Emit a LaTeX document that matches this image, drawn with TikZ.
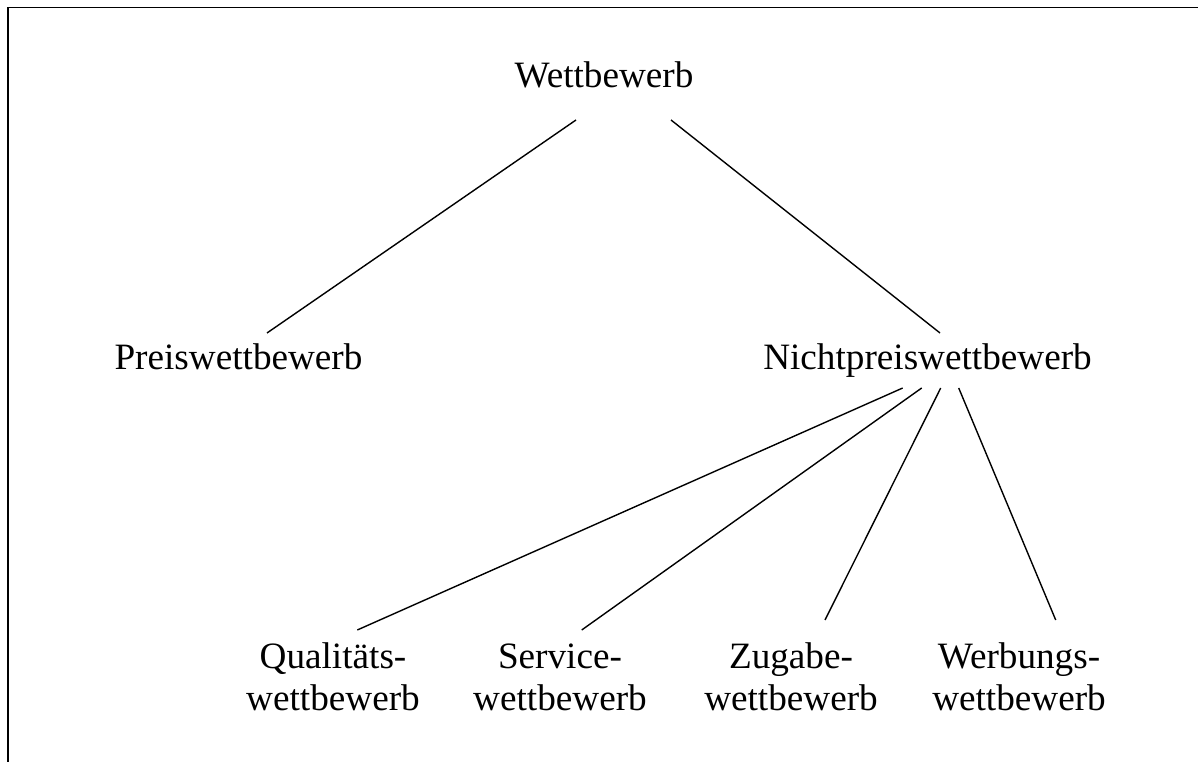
\documentclass[tikz,border=0pt]{standalone}
\usepackage{fontspec}
\setmainfont{Liberation Serif}
\usetikzlibrary{calc}
\begin{document}
\begin{tikzpicture}[x=1pt,y=1pt,
  lbl/.style={inner sep=0pt, anchor=base, align=center, font=\fontsize{37.2}{42}\selectfont},
  conn/.style={line width=1.4pt},
  framel/.style={line width=1.9pt}]
\useasboundingbox (0,0) rectangle (1198,762);
\coordinate (fc) at (8,754.5);
\coordinate (fr) at (1198,754.5);
\coordinate (fb) at (8,0);
\draw[framel] (fr) -- (fc) -- (fb);
\node[lbl] (w) at (604,674) {Wettbewerb};
\node[lbl] (p) at (238.5,392) {Preiswettbewerb};
\node[lbl] (n) at (927.5,392) {Nichtpreiswettbewerb};
\node[lbl] (q) at (333,51) {Qualitäts-\\wettbewerb};
\node[lbl] (s) at (560,51) {Service-\\wettbewerb};
\node[lbl] (z) at (791,51) {Zugabe-\\wettbewerb};
\node[lbl] (wb) at (1019,51) {Werbungs-\\wettbewerb};
\draw[conn] ($(w.base)+(-28,-32)$) -- ($(p.base)+(28.5,37)$);
\draw[conn] ($(w.base)+(67,-32)$) -- ($(n.base)+(12.5,37)$);
\draw[conn] ($(n.base)+(-24.8,-18)$) -- ($(q.base)+(24.3,81)$);
\draw[conn] ($(n.base)+(-5.8,-18)$) -- ($(s.base)+(21.7,81)$);
\draw[conn] ($(n.base)+(13.2,-18)$) -- ($(z.base)+(34,91)$);
\draw[conn] ($(n.base)+(31.2,-18)$) -- ($(wb.base)+(36.7,91)$);
\end{tikzpicture}
\end{document}
